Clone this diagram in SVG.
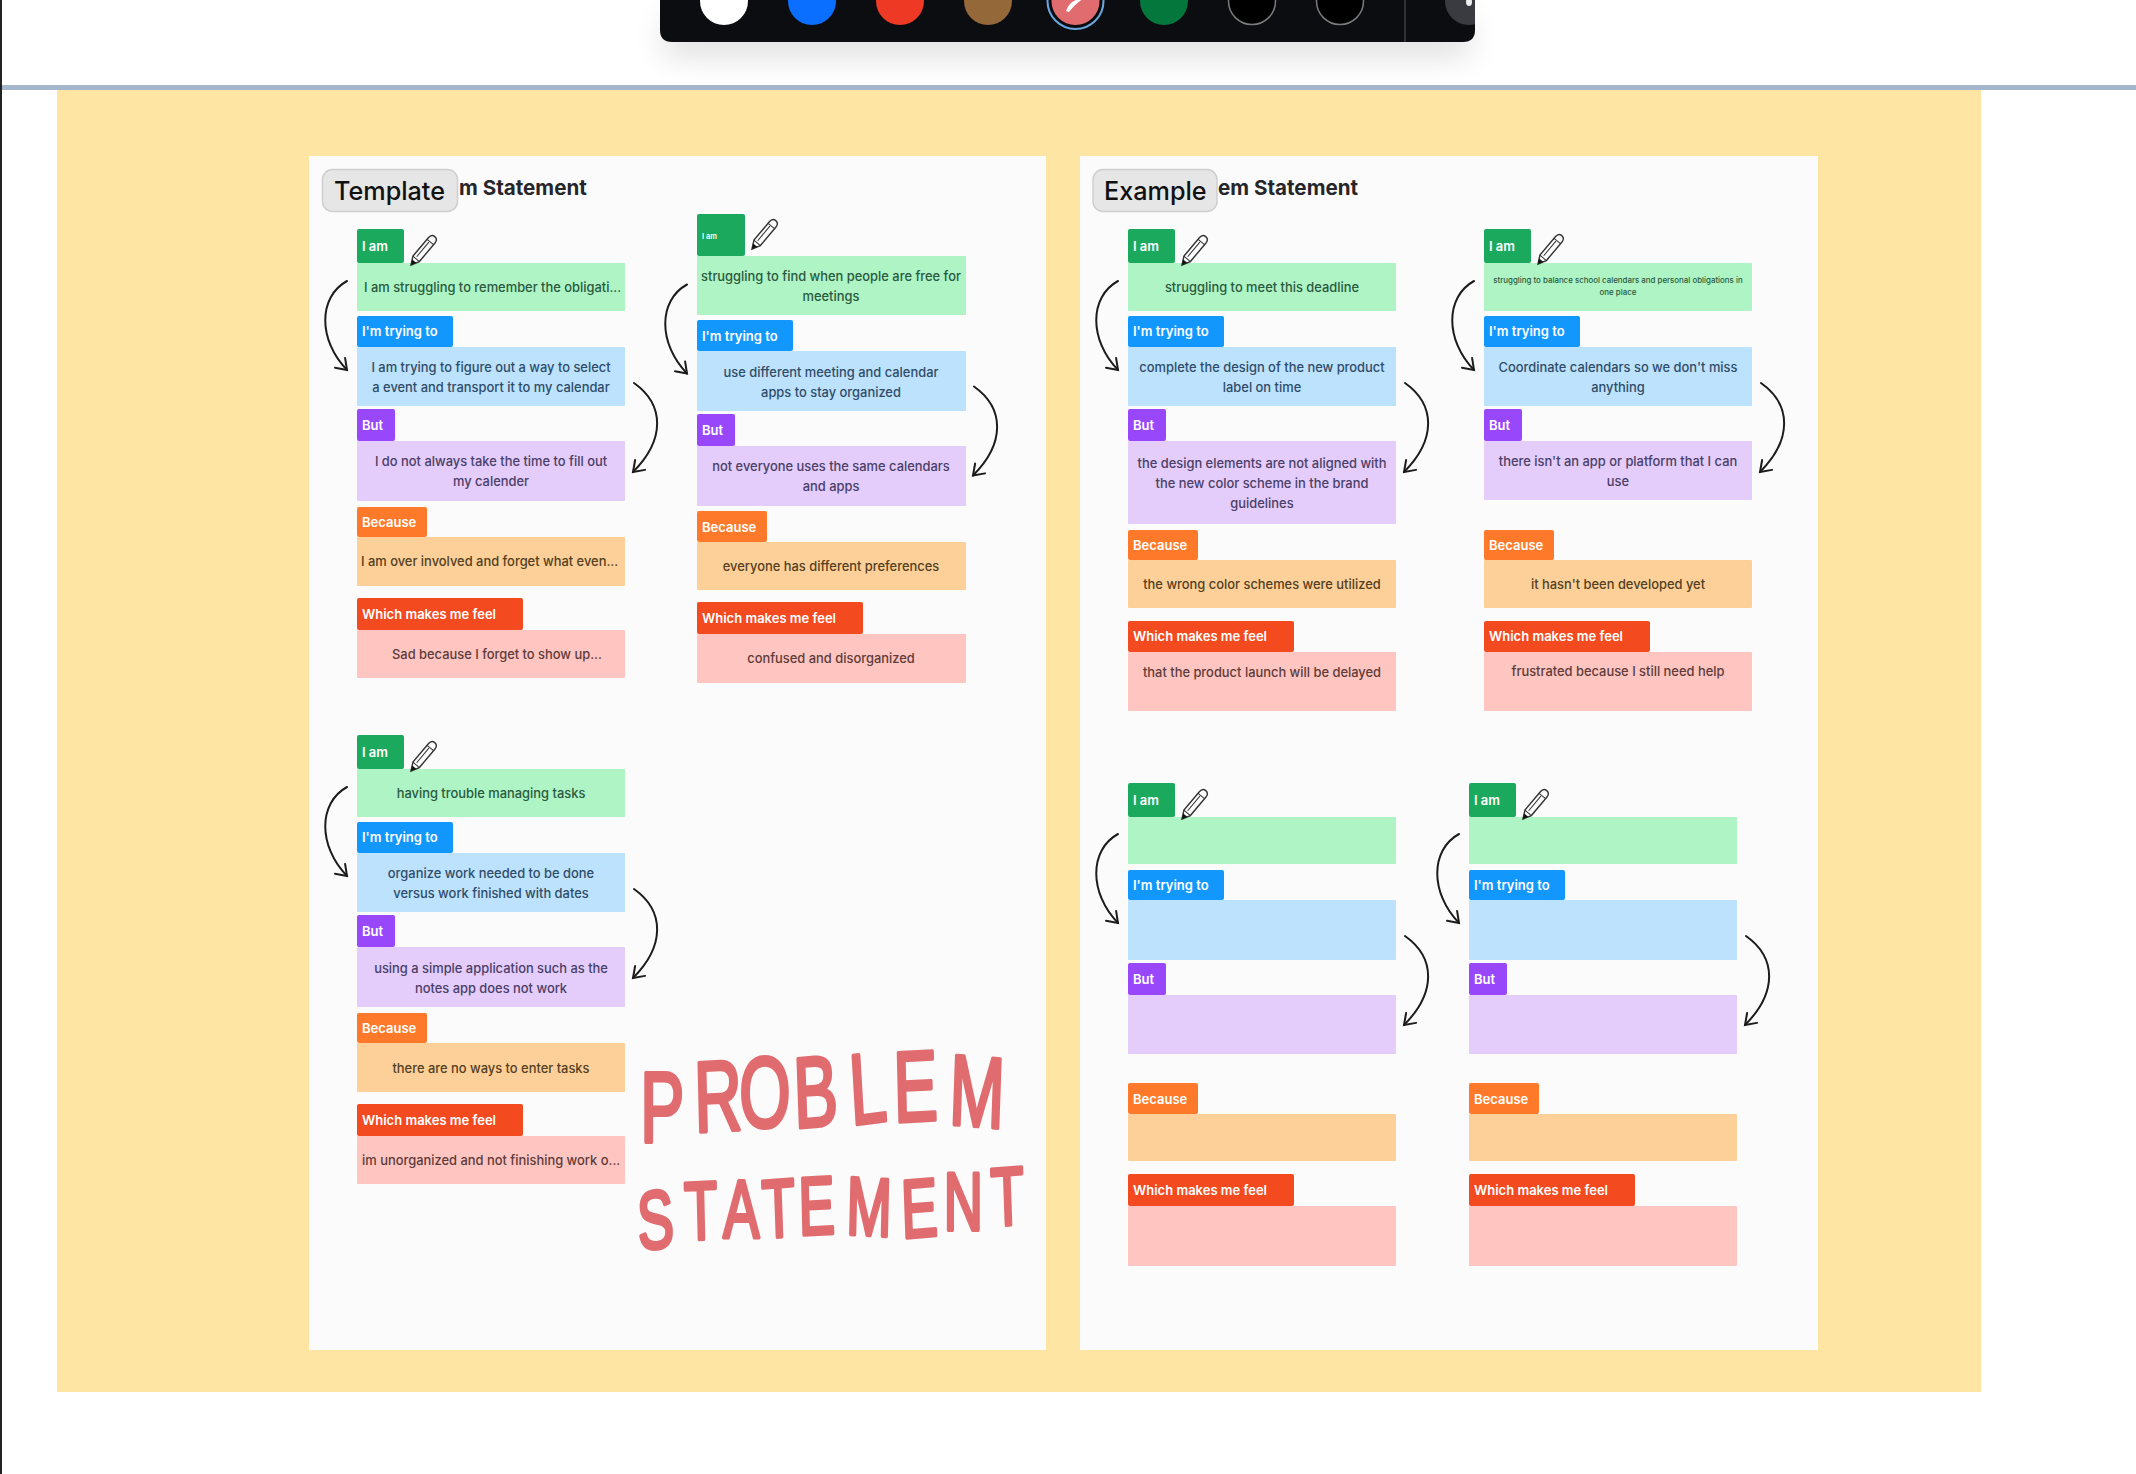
<svg xmlns="http://www.w3.org/2000/svg" width="2136" height="1474" viewBox="0 0 2136 1474">
<style>
text{font-family:Inter,"Liberation Sans",sans-serif}
.lb{font-size:13px;font-weight:600;fill:#fff}
.bd{font-size:12.9px;font-weight:500;text-anchor:middle}
.st{font-size:12.9px;font-weight:500}
.lg{fill:#1ba95d}.bg{fill:#aef4c4}.tg{fill:#2a5a40}
.ll{fill:#1297fd}.bl{fill:#bde2fd}.tl{fill:#2f4d6a}
.lp{fill:#9847fb}.bp{fill:#e4ccfb}.tp{fill:#4a4068}
.lo{fill:#fe7a2a}.bo{fill:#fdd099}.to{fill:#544022}
.lr{fill:#f34a1f}.br{fill:#fec5c1}.tr{fill:#5e3c3a}
.arc{fill:none;stroke:#1c1c1c;stroke-width:2;stroke-linecap:round;marker-end:url(#hd)}
.ttl{font-size:20.6px;font-weight:700;fill:#26262a}
.btn{fill:#e6e6e6;stroke:#cfcfcf;stroke-width:1.5}
.btx{font-size:25.2px;font-weight:500;fill:#111}
.hw{font-family:"Liberation Sans",sans-serif;fill:#e06c6f;stroke:#e06c6f;stroke-width:4;stroke-linejoin:round}
</style>
<defs>
<marker id="hd" markerUnits="userSpaceOnUse" markerWidth="24" markerHeight="24" refX="12" refY="12" orient="auto" viewBox="0 0 24 24"><path d="M2 5L12 12L2 19" fill="none" stroke="#1c1c1c" stroke-width="2" stroke-linecap="round"/></marker>
<path id="arrL" class="arc" d="M347 281C318 297 318 340 347 370"/>
<path id="arrR" class="arc" d="M634 383C665 405 665 440 633 472"/>
<g id="pen" transform="rotate(-50)"><path d="M0 0L8-4.2L32-4.2Q37-4.2 37 0Q37 4.2 32 4.2L8 4.2Z" fill="#fbfbfb" stroke="#333" stroke-width="1.4"/><path d="M0 0L5-2.6L5 2.6Z" fill="#111"/><path d="M8-4.2L8 4.2M30-4.2L30 4.2M10-1L29-1" stroke="#333" stroke-width="1" fill="none"/></g>
<filter id="shd" x="-10%" y="-100%" width="120%" height="400%"><feGaussianBlur stdDeviation="16"/></filter>
<clipPath id="tbc"><path d="M660-5H1475V30Q1475 42 1463 42H672Q660 42 660 30Z"/></clipPath>
</defs>
<rect width="2136" height="1474" fill="#fff"/>
<rect x="0" y="0" width="2" height="1474" fill="#222"/>
<g id="toolbar-shadow"><rect x="664" y="20" width="806" height="36" fill="#000" opacity=".13" filter="url(#shd)"/></g>
<rect x="2" y="85" width="2134" height="5" fill="#a3b6cb"/>
<rect x="57" y="90" width="1924" height="1302" fill="#fee5a3"/>
<rect x="309" y="156" width="737" height="1194" fill="#fbfbfb"/>
<rect x="1080" y="156" width="738" height="1194" fill="#fbfbfb"/>

<g id="toolbar">
<path d="M660-5H1475V30Q1475 42 1463 42H672Q660 42 660 30Z" fill="#0c0d11"/>
<g clip-path="url(#tbc)">
<circle cx="724" cy="1" r="24" fill="#fff"/>
<circle cx="812" cy="1" r="24" fill="#0a6fff"/>
<circle cx="900" cy="1" r="24" fill="#ee3a24"/>
<circle cx="988" cy="1" r="24" fill="#946838"/>
<circle cx="1075.5" cy="1" r="28" fill="#0c0d11" stroke="#69a7e0" stroke-width="2"/>
<circle cx="1075.5" cy="1" r="24" fill="#e06c6f"/>
<path d="M1066 11Q1070 0 1080-1L1083-1Q1076 3 1069 12Z" fill="#fff"/>
<circle cx="1164" cy="1" r="24" fill="#04773c"/>
<circle cx="1252" cy="1" r="23.5" fill="#000" stroke="#7d7d7d" stroke-width="1.5"/>
<circle cx="1340" cy="1" r="23.5" fill="#000" stroke="#7d7d7d" stroke-width="1.5"/>
<circle cx="1469" cy="1" r="24" fill="#3a3b40"/>
<ellipse cx="1469" cy="2" rx="3" ry="4" fill="#eee"/>
</g>
<rect x="1404.5" y="0" width="1" height="42" fill="#55565a"/>
</g>

<g id="template-title"><text class="ttl" x="459" y="195">m Statement</text><rect class="btn" x="322.5" y="169.5" width="135" height="42" rx="10"/><text class="btx" x="334" y="200">Template</text></g>
<g id="example-title"><text class="ttl" x="1218" y="195">em Statement</text><rect class="btn" x="1093" y="169.5" width="124" height="42" rx="10"/><text class="btx" x="1104" y="200">Example</text></g>

<g id="a1-iam"><rect class="bg" x="357" y="263" width="268" height="48" rx="1"/><rect class="lg" x="357" y="229" width="47" height="34" rx="2"/><text class="lb" x="362" y="251">I am</text><text class="st tg" x="364" y="292">I am struggling to remember the obligati...</text></g>
<g id="a1-try"><rect class="bl" x="357" y="347" width="268" height="59" rx="1"/><rect class="ll" x="357" y="316" width="96" height="31" rx="2"/><text class="lb" x="362" y="336">I'm trying to</text><text class="bd tl" x="491" y="372">I am trying to figure out a way to select</text><text class="bd tl" x="491" y="392">a event and transport it to my calendar</text></g>
<g id="a1-but"><rect class="bp" x="357" y="441" width="268" height="60" rx="1"/><rect class="lp" x="357" y="409" width="38" height="32" rx="2"/><text class="lb" x="362" y="430">But</text><text class="bd tp" x="491" y="466">I do not always take the time to fill out</text><text class="bd tp" x="491" y="486">my calender</text></g>
<g id="a1-bec"><rect class="bo" x="357" y="537" width="268" height="49" rx="1"/><rect class="lo" x="357" y="507" width="70" height="30" rx="2"/><text class="lb" x="362" y="527">Because</text><text class="st to" x="361" y="566">I am over involved and forget what even...</text></g>
<g id="a1-feel"><rect class="br" x="357" y="630" width="268" height="48" rx="1"/><rect class="lr" x="357" y="598" width="166" height="32" rx="2"/><text class="lb" x="362" y="619">Which makes me feel</text><text class="st tr" x="392" y="659">Sad because I forget to show up...</text></g>

<g id="a2-iam"><rect class="bg" x="697" y="256" width="269" height="59" rx="1"/><rect class="lg" x="697" y="214" width="48" height="42" rx="2"/><text class="lb" x="702" y="239" style="font-size:7.5px">I am</text><text class="bd tg" x="831" y="281">struggling to find when people are free for</text><text class="bd tg" x="831" y="301">meetings</text></g>
<g id="a2-try"><rect class="bl" x="697" y="351" width="269" height="60" rx="1"/><rect class="ll" x="697" y="320" width="96" height="31" rx="2"/><text class="lb" x="702" y="341">I'm trying to</text><text class="bd tl" x="831" y="377">use different meeting and calendar</text><text class="bd tl" x="831" y="397">apps to stay organized</text></g>
<g id="a2-but"><rect class="bp" x="697" y="446" width="269" height="60" rx="1"/><rect class="lp" x="697" y="414" width="38" height="32" rx="2"/><text class="lb" x="702" y="435">But</text><text class="bd tp" x="831" y="471">not everyone uses the same calendars</text><text class="bd tp" x="831" y="491">and apps</text></g>
<g id="a2-bec"><rect class="bo" x="697" y="542" width="269" height="48" rx="1"/><rect class="lo" x="697" y="511" width="70" height="31" rx="2"/><text class="lb" x="702" y="532">Because</text><text class="bd to" x="831" y="571">everyone has different preferences</text></g>
<g id="a2-feel"><rect class="br" x="697" y="634" width="269" height="49" rx="1"/><rect class="lr" x="697" y="602" width="166" height="32" rx="2"/><text class="lb" x="702" y="623">Which makes me feel</text><text class="bd tr" x="831" y="663">confused and disorganized</text></g>

<g id="a3-iam"><rect class="bg" x="357" y="769" width="268" height="48" rx="1"/><rect class="lg" x="357" y="735" width="47" height="34" rx="2"/><text class="lb" x="362" y="757">I am</text><text class="bd tg" x="491" y="798">having trouble managing tasks</text></g>
<g id="a3-try"><rect class="bl" x="357" y="853" width="268" height="59" rx="1"/><rect class="ll" x="357" y="822" width="96" height="31" rx="2"/><text class="lb" x="362" y="842">I'm trying to</text><text class="bd tl" x="491" y="878">organize work needed to be done</text><text class="bd tl" x="491" y="898">versus work finished with dates</text></g>
<g id="a3-but"><rect class="bp" x="357" y="947" width="268" height="60" rx="1"/><rect class="lp" x="357" y="915" width="38" height="32" rx="2"/><text class="lb" x="362" y="936">But</text><text class="bd tp" x="491" y="973">using a simple application such as the</text><text class="bd tp" x="491" y="993">notes app does not work</text></g>
<g id="a3-bec"><rect class="bo" x="357" y="1043" width="268" height="49" rx="1"/><rect class="lo" x="357" y="1013" width="70" height="30" rx="2"/><text class="lb" x="362" y="1033">Because</text><text class="bd to" x="491" y="1073">there are no ways to enter tasks</text></g>
<g id="a3-feel"><rect class="br" x="357" y="1136" width="268" height="48" rx="1"/><rect class="lr" x="357" y="1104" width="166" height="32" rx="2"/><text class="lb" x="362" y="1125">Which makes me feel</text><text class="st tr" x="362" y="1165">im unorganized and not finishing work o...</text></g>

<g id="b1-iam"><rect class="bg" x="1128" y="263" width="268" height="48" rx="1"/><rect class="lg" x="1128" y="229" width="47" height="34" rx="2"/><text class="lb" x="1133" y="251">I am</text><text class="bd tg" x="1262" y="292">struggling to meet this deadline</text></g>
<g id="b1-try"><rect class="bl" x="1128" y="347" width="268" height="59" rx="1"/><rect class="ll" x="1128" y="316" width="96" height="31" rx="2"/><text class="lb" x="1133" y="336">I'm trying to</text><text class="bd tl" x="1262" y="372">complete the design of the new product</text><text class="bd tl" x="1262" y="392">label on time</text></g>
<g id="b1-but"><rect class="bp" x="1128" y="441" width="268" height="83" rx="1"/><rect class="lp" x="1128" y="409" width="38" height="32" rx="2"/><text class="lb" x="1133" y="430">But</text><text class="bd tp" x="1262" y="468">the design elements are not aligned with</text><text class="bd tp" x="1262" y="488">the new color scheme in the brand</text><text class="bd tp" x="1262" y="508">guidelines</text></g>
<g id="b1-bec"><rect class="bo" x="1128" y="560" width="268" height="48" rx="1"/><rect class="lo" x="1128" y="530" width="70" height="30" rx="2"/><text class="lb" x="1133" y="550">Because</text><text class="bd to" x="1262" y="589">the wrong color schemes were utilized</text></g>
<g id="b1-feel"><rect class="br" x="1128" y="652" width="268" height="59" rx="1"/><rect class="lr" x="1128" y="621" width="166" height="31" rx="2"/><text class="lb" x="1133" y="641">Which makes me feel</text><text class="bd tr" x="1262" y="677">that the product launch will be delayed</text></g>

<g id="b2-iam"><rect class="bg" x="1484" y="263" width="268" height="48" rx="1"/><rect class="lg" x="1484" y="229" width="47" height="34" rx="2"/><text class="lb" x="1489" y="251">I am</text><text class="bd tg" x="1618" y="283" style="font-size:7.9px">struggling to balance school calendars and personal obligations in</text><text class="bd tg" x="1618" y="295" style="font-size:7.9px">one place</text></g>
<g id="b2-try"><rect class="bl" x="1484" y="347" width="268" height="59" rx="1"/><rect class="ll" x="1484" y="316" width="96" height="31" rx="2"/><text class="lb" x="1489" y="336">I'm trying to</text><text class="bd tl" x="1618" y="372">Coordinate calendars so we don't miss</text><text class="bd tl" x="1618" y="392">anything</text></g>
<g id="b2-but"><rect class="bp" x="1484" y="441" width="268" height="59" rx="1"/><rect class="lp" x="1484" y="409" width="38" height="32" rx="2"/><text class="lb" x="1489" y="430">But</text><text class="bd tp" x="1618" y="466">there isn't an app or platform that I can</text><text class="bd tp" x="1618" y="486">use</text></g>
<g id="b2-bec"><rect class="bo" x="1484" y="560" width="268" height="48" rx="1"/><rect class="lo" x="1484" y="530" width="70" height="30" rx="2"/><text class="lb" x="1489" y="550">Because</text><text class="bd to" x="1618" y="589">it hasn't been developed yet</text></g>
<g id="b2-feel"><rect class="br" x="1484" y="652" width="268" height="59" rx="1"/><rect class="lr" x="1484" y="621" width="166" height="31" rx="2"/><text class="lb" x="1489" y="641">Which makes me feel</text><text class="bd tr" x="1618" y="676">frustrated because I still need help</text></g>

<g id="b3-iam"><rect class="bg" x="1128" y="817" width="268" height="47" rx="1"/><rect class="lg" x="1128" y="783" width="47" height="34" rx="2"/><text class="lb" x="1133" y="805">I am</text></g>
<g id="b3-try"><rect class="bl" x="1128" y="900" width="268" height="60" rx="1"/><rect class="ll" x="1128" y="870" width="96" height="30" rx="2"/><text class="lb" x="1133" y="890">I'm trying to</text></g>
<g id="b3-but"><rect class="bp" x="1128" y="995" width="268" height="59" rx="1"/><rect class="lp" x="1128" y="963" width="38" height="32" rx="2"/><text class="lb" x="1133" y="984">But</text></g>
<g id="b3-bec"><rect class="bo" x="1128" y="1114" width="268" height="47" rx="1"/><rect class="lo" x="1128" y="1083" width="70" height="31" rx="2"/><text class="lb" x="1133" y="1104">Because</text></g>
<g id="b3-feel"><rect class="br" x="1128" y="1206" width="268" height="60" rx="1"/><rect class="lr" x="1128" y="1174" width="166" height="32" rx="2"/><text class="lb" x="1133" y="1195">Which makes me feel</text></g>

<g id="b4-iam"><rect class="bg" x="1469" y="817" width="268" height="47" rx="1"/><rect class="lg" x="1469" y="783" width="47" height="34" rx="2"/><text class="lb" x="1474" y="805">I am</text></g>
<g id="b4-try"><rect class="bl" x="1469" y="900" width="268" height="60" rx="1"/><rect class="ll" x="1469" y="870" width="96" height="30" rx="2"/><text class="lb" x="1474" y="890">I'm trying to</text></g>
<g id="b4-but"><rect class="bp" x="1469" y="995" width="268" height="59" rx="1"/><rect class="lp" x="1469" y="963" width="38" height="32" rx="2"/><text class="lb" x="1474" y="984">But</text></g>
<g id="b4-bec"><rect class="bo" x="1469" y="1114" width="268" height="47" rx="1"/><rect class="lo" x="1469" y="1083" width="70" height="31" rx="2"/><text class="lb" x="1474" y="1104">Because</text></g>
<g id="b4-feel"><rect class="br" x="1469" y="1206" width="268" height="60" rx="1"/><rect class="lr" x="1469" y="1174" width="166" height="32" rx="2"/><text class="lb" x="1474" y="1195">Which makes me feel</text></g>

<g id="pencils">
<use href="#pen" transform="translate(411 265)"/>
<use href="#pen" transform="translate(752 249)"/>
<use href="#pen" transform="translate(411 771)"/>
<use href="#pen" transform="translate(1182 265)"/>
<use href="#pen" transform="translate(1538 264)"/>
<use href="#pen" transform="translate(1182 819)"/>
<use href="#pen" transform="translate(1523 819)"/>
</g>

<g id="connectors">
<use href="#arrL"/><use href="#arrR"/>
<use href="#arrL" transform="translate(340 3.5)"/><use href="#arrR" transform="translate(340 3.5)"/>
<use href="#arrL" transform="translate(0 506)"/><use href="#arrR" transform="translate(0 506)"/>
<use href="#arrL" transform="translate(771 0)"/><use href="#arrR" transform="translate(771 0)"/>
<use href="#arrL" transform="translate(1127 0)"/><use href="#arrR" transform="translate(1127 0)"/>
<use href="#arrL" transform="translate(771 553)"/><use href="#arrR" transform="translate(771 553)"/>
<use href="#arrL" transform="translate(1112 553)"/><use href="#arrR" transform="translate(1112 553)"/>
</g>

<g id="handwriting">
<text class="hw" transform="scale(.66 1)" font-size="100" x="970 1053 1120 1204 1290 1355 1437" y="1142 1132 1127 1128 1125 1122 1124" rotate="0 -2 0 -3 -5 -2 3">PROBLEM</text>
<text class="hw" transform="scale(.66 1)" font-size="82" x="968 1038 1096 1156 1211 1282 1367 1430 1503" y="1250 1240 1237 1238 1235 1234 1238 1230 1226" rotate="-4 -2 0 -3 -2 2 -3 0 -3">STATEMENT</text>
</g>
</svg>
